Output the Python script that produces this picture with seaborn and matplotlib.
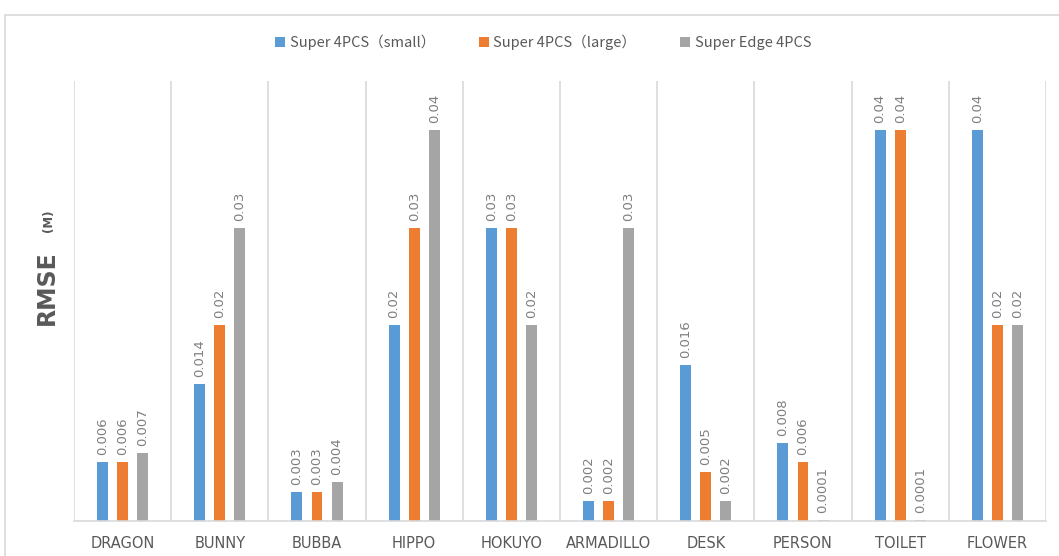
import matplotlib
matplotlib.use("Agg")
import matplotlib.pyplot as plt
import seaborn as sns
import pandas as pd
from matplotlib.patches import Rectangle, Patch

categories = ["DRAGON", "BUNNY", "BUBBA", "HIPPO", "HOKUYO", "ARMADILLO", "DESK", "PERSON", "TOILET", "FLOWER"]
series_names = ["Super 4PCS（small）", "Super 4PCS（large）", "Super Edge 4PCS"]
small = [0.006, 0.014, 0.003, 0.02, 0.03, 0.002, 0.016, 0.008, 0.04, 0.04]
large = [0.006, 0.02, 0.003, 0.03, 0.03, 0.002, 0.005, 0.006, 0.04, 0.02]
edge = [0.007, 0.03, 0.004, 0.04, 0.02, 0.03, 0.002, 0.0001, 0.0001, 0.02]
colors = ["#5B9BD5", "#ED7D31", "#A5A5A5"]

sns.set_theme(style="white")
plt.rcParams['font.family'] = ['Noto Sans CJK SC', 'DejaVu Sans']

rows = []
for name, vals in zip(series_names, [small, large, edge]):
    for c, v in zip(categories, vals):
        rows.append({"category": c, "series": name, "value": v})
df = pd.DataFrame(rows)

fig = plt.figure(figsize=(10.59, 5.56), dpi=100)
ax = fig.add_axes([74/1059, 35/556, (1046-74)/1059, (521-81)/556])

sns.barplot(data=df, x="category", y="value", hue="series", order=categories,
            hue_order=series_names, palette=colors, width=0.62, ax=ax,
            errorbar=None, saturation=1, legend=False)

bw = 0.113
for cont, vals in zip(ax.containers, [small, large, edge]):
    for p in cont.patches:
        cx = p.get_x() + p.get_width() / 2
        p.set_width(bw)
        p.set_x(cx - bw / 2)
        p.set_edgecolor("none")
    ax.bar_label(cont, labels=[str(v) for v in vals], rotation=90, padding=5,
                 fontsize=9.5, color="#7F7F7F", family=['DejaVu Sans'])

ax.set_ylim(0, 0.045)
ax.set_xlim(-0.5, len(categories) - 0.5)
ax.set_yticks([])
ax.set_xlabel("")
ax.set_ylabel("")
for s in ["top", "right", "left"]:
    ax.spines[s].set_visible(False)
ax.spines["bottom"].set_color("#D9D9D9")
ax.spines["bottom"].set_linewidth(1.2)
for i in range(len(categories) + 1):
    ax.axvline(i - 0.5, color="#D9D9D9", lw=1.2, zorder=0)
ax.tick_params(axis="x", length=0, pad=11)
ax.set_xticks(range(len(categories)))
ax.set_xticklabels(categories, fontsize=10.5, color="#595959", family=['DejaVu Sans'],
                   fontstretch="expanded")

# y label
fig.text(47/1059, 1 - 288/556, "RMSE", rotation=90, ha="center", va="center",
         fontsize=17, fontweight="bold", color="#595959", family=['DejaVu Sans'])
fig.text(49/1059, 1 - 221/556, "(M)", rotation=90, ha="center", va="center",
         fontsize=8.5, fontweight="bold", color="#595959", family=['DejaVu Sans'])

# legend
handles = [Patch(facecolor=c, edgecolor="none") for c in colors]
fig.legend(handles, series_names, loc="center", bbox_to_anchor=(543/1059, 1 - 42/556),
           ncol=3, frameon=False, fontsize=10.5, handlelength=0.7, handleheight=0.7,
           handletextpad=0.3, columnspacing=3.0, labelcolor="#595959")

# outer frame
fig.patches.append(Rectangle((4.5/1059, -0.1), 1.2, 1 - 14.5/556 + 0.1,
                             transform=fig.transFigure, fill=False,
                             edgecolor="#D9D9D9", lw=1.2))

fig.savefig("out.png", dpi=100)
